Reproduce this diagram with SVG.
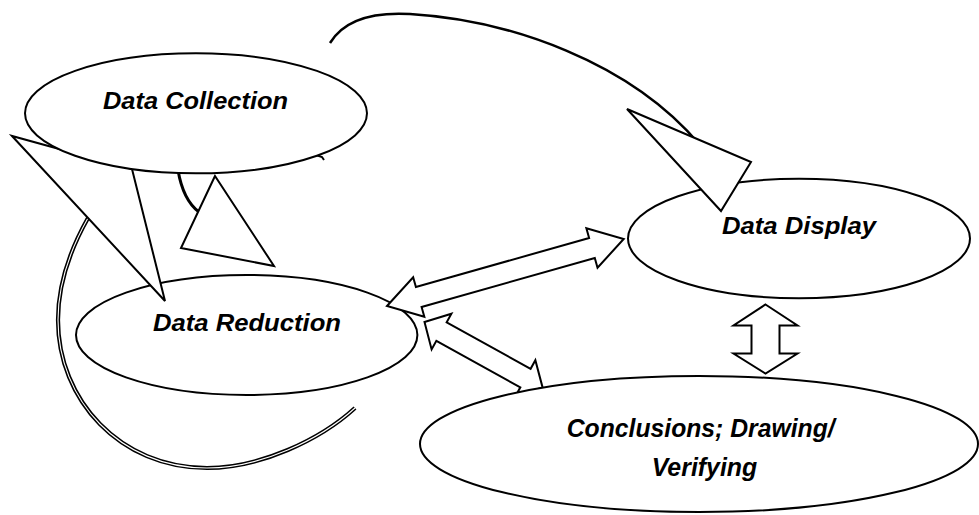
<svg xmlns="http://www.w3.org/2000/svg" width="979" height="515" viewBox="0 0 979 515">
<style>
.node ellipse{fill:#fff;stroke:#000;stroke-width:2}
.lbl{font-family:"Liberation Sans",Arial,sans-serif;font-weight:bold;font-style:italic;font-size:24px;fill:#000}
.big{font-size:26px}
.shape{fill:#fff;stroke:#000;stroke-width:2;stroke-linejoin:miter}
.line{fill:none;stroke:#000}
</style>
<rect width="979" height="515" fill="#fff"/>
<g id="node-reduction" class="node">
<ellipse cx="246.7" cy="335" rx="170.7" ry="60"/>
<text class="lbl" x="153" y="330.7" textLength="188" lengthAdjust="spacingAndGlyphs">Data Reduction</text>
</g>
<g id="node-display" class="node">
<ellipse cx="799" cy="238.5" rx="171" ry="59.7"/>
<text class="lbl" x="722" y="234" textLength="154" lengthAdjust="spacingAndGlyphs">Data Display</text>
</g>
<g id="connectors">
<path class="line" d="M88,218 C70,250 58,285 58,320 C58,400 120,468 207,468 C260,468 320,440 355,408" stroke-width="4.2"/>
<path d="M88,218 C70,250 58,285 58,320 C58,400 120,468 207,468 C260,468 320,440 355,408" fill="none" stroke="#fff" stroke-width="1.1"/>
<polygon class="shape" points="12,136 165,301 132,169"/>
<path class="line" d="M178,170 Q183,200 199,212" stroke-width="3"/>
<polygon class="shape" points="215,176 181,248 274,266"/>
<path class="line" d="M330,43 C345,18 375,12 410,14 C510,20 630,62 700,145" stroke-width="2.5"/>
<path class="line" d="M316,155 L322,157 L324,160" stroke-width="2"/>
<polygon class="shape" points="627,109 751,162 721,211"/>
<polygon class="shape" transform="translate(387,306) rotate(-15.8)" points="0,0 33,-20.5 33,-10.4 213,-10.4 213,-20.5 246,0 213,20.5 213,10.4 33,10.4 33,20.5"/>
<polygon class="shape" transform="translate(424.5,322) rotate(29)" points="0,0 19.5,-20.3 19.5,-10.5 115.5,-10.5 115.5,-20.3 135,0 115.5,20.5 115.5,10.7 19.5,10.7 19.5,20.5"/>
<polygon class="shape" points="765.5,304.5 797.5,325.5 779.5,325.5 779.5,353.5 797.5,353.5 765.5,373.5 733.5,353.5 751.5,353.5 751.5,325.5 733.5,325.5"/>
</g>
<g id="node-collection" class="node">
<ellipse cx="196" cy="113.3" rx="171" ry="60"/>
<text class="lbl" x="103" y="109.3" textLength="185" lengthAdjust="spacingAndGlyphs">Data Collection</text>
</g>
<g id="node-conclusions" class="node">
<ellipse cx="699" cy="444" rx="279" ry="68"/>
<text class="lbl big" x="566.7" y="437.3" textLength="268" lengthAdjust="spacingAndGlyphs">Conclusions; Drawing/</text>
<text class="lbl big" x="651.7" y="476" textLength="105.6" lengthAdjust="spacingAndGlyphs">Verifying</text>
</g>
</svg>
